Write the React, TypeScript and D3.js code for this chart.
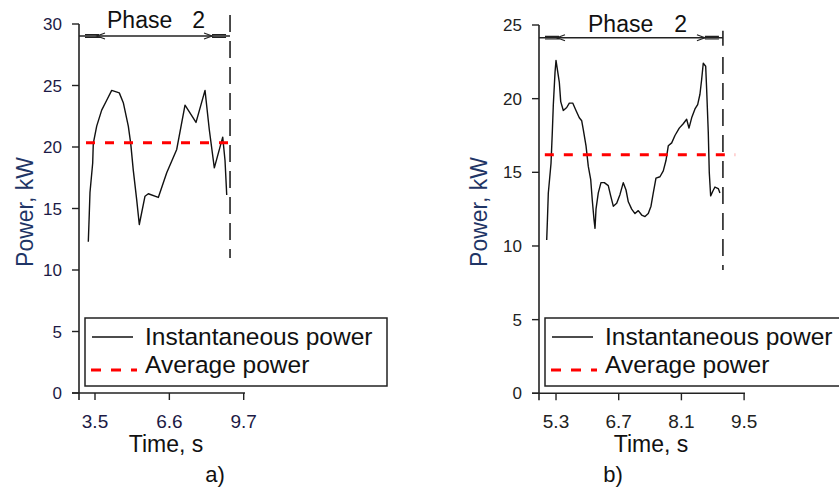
import React from "react";
import * as d3 from "d3";

// ---------- Data ----------
const timeA = [3.221, 3.262, 3.291, 3.404, 3.429, 3.571, 3.779, 3.988, 4.196, 4.513, 4.68, 4.889, 4.989, 5.097, 5.239, 5.347, 5.585, 5.723, 6.14, 6.49, 6.907, 7.253, 7.712, 8.087, 8.266, 8.475, 8.6, 8.825, 8.921, 8.992];
const powerA = [12.3, 14.6, 16.3, 18.7, 20.3, 21.7, 23.0, 23.8, 24.6, 24.4, 23.6, 21.7, 20.3, 18.1, 15.7, 13.7, 16.0, 16.2, 15.9, 17.9, 19.8, 23.4, 22.0, 24.6, 21.4, 18.3, 19.2, 20.8, 18.9, 16.1];

const timeB = [5.092, 5.106, 5.128, 5.188, 5.217, 5.24, 5.278, 5.3, 5.329, 5.374, 5.405, 5.463, 5.539, 5.597, 5.673, 5.746, 5.82, 5.874, 5.909, 5.97, 6.021, 6.075, 6.11, 6.148, 6.171, 6.193, 6.244, 6.304, 6.378, 6.467, 6.521, 6.579, 6.655, 6.729, 6.802, 6.863, 6.914, 6.99, 7.063, 7.137, 7.213, 7.287, 7.36, 7.421, 7.472, 7.532, 7.621, 7.695, 7.755, 7.807, 7.883, 7.956, 8.052, 8.141, 8.217, 8.269, 8.329, 8.403, 8.463, 8.514, 8.552, 8.588, 8.642, 8.664, 8.7, 8.722, 8.753, 8.798, 8.849, 8.923, 8.961];
const powerB = [10.4, 11.6, 13.6, 15.6, 17.7, 19.6, 21.8, 22.6, 22.0, 21.1, 19.8, 19.2, 19.4, 19.7, 19.7, 19.2, 18.7, 18.5, 17.9, 16.8, 15.4, 14.5, 13.1, 11.8, 11.2, 12.5, 13.6, 14.3, 14.3, 14.1, 13.4, 12.7, 12.9, 13.5, 14.3, 13.8, 13.0, 12.5, 12.2, 12.4, 12.1, 12.0, 12.2, 12.7, 13.6, 14.6, 14.7, 15.1, 15.8, 16.8, 17.0, 17.5, 18.0, 18.3, 18.6, 18.0, 18.7, 19.3, 19.6, 20.3, 21.3, 22.4, 22.2, 20.6, 17.7, 15.0, 13.4, 13.7, 14.0, 13.9, 13.6];

const avgA = 20.35;
const avgSpanA = [3.125, 9.42];
const avgB = 16.2;
const avgSpanB = [5.05, 9.3];

const phaseEndA = 9.13;
const phaseEndB = 9.027;

const xTicksA = [3.5, 6.6, 9.7];
const yTicksA = [0, 5, 10, 15, 20, 25, 30];
const xTicksB = [5.3, 6.7, 8.1, 9.5];
const yTicksB = [0, 5, 10, 15, 20, 25];

const legendLabels = ["Instantaneous power", "Average power"];
const phaseLabel = ["Phase", "2"];
const xTitle = "Time, s";
const yTitle = "Power, kW";
const panelLabels = ["a)", "b)"];

const FONT = "'Liberation Sans', Arial, sans-serif";

type PanelProps = {
  times: number[];
  powers: number[];
  avg: number;
  avgSpan: number[];
  phaseEnd: number;
  xTicks: number[];
  yTicks: number[];
  xDomain: [number, number];
  xRange: [number, number];
  yDomain: [number, number];
  yRange: [number, number];
  tickColor: string;
  tickFmt: (v: number) => string;
  phaseTextX: [number, number];
  phaseY: number;
  phaseTextY: number;
  dashTop: number;
  dashBottom: number;
  endCap: boolean;
  yTitleX: number;
  xTitleX: number;
  legendRight: number;
  panelLabel: string;
  panelLabelX: number;
};

function Panel(p: PanelProps) {
  const x = d3.scaleLinear().domain(p.xDomain).range(p.xRange);
  const y = d3.scaleLinear().domain(p.yDomain).range(p.yRange);
  const data = p.times.map((t, i) => [t, p.powers[i]] as [number, number]);
  const line = d3
    .line<[number, number]>()
    .x((d) => x(d[0]))
    .y((d) => y(d[1]));
  const x0 = p.xRange[0];
  const x1 = p.xRange[1];
  const y0 = p.yRange[0];
  const yTop = p.yRange[1];
  const xe = x(p.phaseEnd);
  const py = p.phaseY;
  const legTop = 318;
  const legBottom = 386;
  const legLeft = x0 + 6;
  return (
    <g>
      {/* axes */}
      <line x1={x0} x2={x0} y1={yTop} y2={y0 + 7} stroke="#222" strokeWidth={1.6} />
      <line x1={x0 - 7} x2={x1} y1={y0} y2={y0} stroke="#222" strokeWidth={1.6} />
      {p.yTicks.map((v) => (
        <g key={"y" + v}>
          <line x1={x0 - 7} x2={x0} y1={y(v)} y2={y(v)} stroke="#222" strokeWidth={1.4} />
          <text x={x0 - 17} y={y(v) + 6} textAnchor="end" fontSize={17} fill={p.tickColor} fontFamily={FONT}>
            {v}
          </text>
        </g>
      ))}
      {p.xTicks.map((v) => (
        <g key={"x" + v}>
          <line x1={x(v)} x2={x(v)} y1={y0} y2={y0 + 7} stroke="#222" strokeWidth={1.4} />
          <text x={x(v)} y={428} textAnchor="middle" fontSize={19} fill={p.tickColor} fontFamily={FONT}>
            {p.tickFmt(v)}
          </text>
        </g>
      ))}
      {/* axis titles */}
      <text
        transform={`translate(${p.yTitleX},212) rotate(-90)`}
        textAnchor="middle"
        fontSize={23}
        fill="#1f3566"
        fontFamily={FONT}
      >
        {yTitle}
      </text>
      <text x={p.xTitleX} y={452} textAnchor="middle" fontSize={23} fill="#111" fontFamily={FONT}>
        {xTitle}
      </text>
      <text x={p.panelLabelX} y={482} textAnchor="middle" fontSize={22} fill="#111" fontFamily={FONT}>
        {p.panelLabel}
      </text>
      {/* phase annotation */}
      <line x1={x0} x2={xe} y1={py} y2={py} stroke="#222" strokeWidth={1.6} />
      <path
        d={`M${x0 + 6},${py - 1.3}H${x0 + 20}M${x0 + 6},${py + 1.3}H${x0 + 20}M${x0 + 26},${py - 3}L${x0 + 18},${py}L${x0 + 26},${py + 3}`}
        stroke="#222"
        strokeWidth={1.2}
        fill="none"
      />
      <path
        d={`M${xe - 4},${py - 1.3}H${xe - 18}M${xe - 4},${py + 1.3}H${xe - 18}M${xe - 26},${py - 3}L${xe - 18},${py}L${xe - 26},${py + 3}`}
        stroke="#222"
        strokeWidth={1.2}
        fill="none"
      />
      {p.endCap && <line x1={xe} x2={xe} y1={py - 7} y2={py + 8} stroke="#222" strokeWidth={1.6} />}
      <line
        x1={xe}
        x2={xe}
        y1={p.dashTop}
        y2={p.dashBottom}
        stroke="#222"
        strokeWidth={1.6}
        strokeDasharray="17,9"
      />
      <text x={p.phaseTextX[0]} y={p.phaseTextY} fontSize={23} fill="#111" fontFamily={FONT}>
        {phaseLabel[0]}
      </text>
      <text x={p.phaseTextX[1]} y={p.phaseTextY} fontSize={23} textAnchor="end" fill="#111" fontFamily={FONT}>
        {phaseLabel[1]}
      </text>
      {/* series */}
      <path d={line(data) || ""} fill="none" stroke="#111" strokeWidth={1.4} strokeLinejoin="round" />
      <line
        x1={x(p.avgSpan[0])}
        x2={x(p.avgSpan[1])}
        y1={y(p.avg)}
        y2={y(p.avg)}
        stroke="#ff0000"
        strokeWidth={3}
        strokeDasharray="9,10"
      />
      {/* legend */}
      <rect x={legLeft} y={legTop} width={p.legendRight - legLeft} height={legBottom - legTop} fill="white" stroke="#222" strokeWidth={1.5} />
      <line x1={legLeft + 7} x2={legLeft + 48} y1={337} y2={337} stroke="#111" strokeWidth={1.4} />
      <line x1={legLeft + 6} x2={legLeft + 52} y1={370} y2={370} stroke="#ff0000" strokeWidth={3} strokeDasharray="10,10" />
      <text x={legLeft + 60} y={345} fontSize={24.5} fill="#111" fontFamily={FONT}>
        {legendLabels[0]}
      </text>
      <text x={legLeft + 60} y={373} fontSize={24.5} fill="#111" fontFamily={FONT}>
        {legendLabels[1]}
      </text>
    </g>
  );
}

export default function App() {
  return (
    <svg
      width={839}
      height={500}
      viewBox="0 0 839 500"
      style={{ position: "absolute", left: 0, top: 0, background: "white", overflow: "hidden" }}
    >
      <rect x={0} y={0} width={839} height={500} fill="white" />
      <Panel
        times={timeA}
        powers={powerA}
        avg={avgA}
        avgSpan={avgSpanA}
        phaseEnd={phaseEndA}
        xTicks={xTicksA}
        yTicks={yTicksA}
        xDomain={[2.833, 9.754]}
        xRange={[79, 245]}
        yDomain={[0, 30]}
        yRange={[393, 24]}
        tickColor="#1c1a45"
        tickFmt={(v) => v.toFixed(1)}
        phaseTextX={[107, 205]}
        phaseY={36}
        phaseTextY={28}
        dashTop={15}
        dashBottom={258}
        endCap={false}
        yTitleX={33}
        xTitleX={166}
        legendRight={387}
        panelLabel={panelLabels[0]}
        panelLabelX={215}
      />
      <Panel
        times={timeB}
        powers={powerB}
        avg={avgB}
        avgSpan={avgSpanB}
        phaseEnd={phaseEndB}
        xTicks={xTicksB}
        yTicks={yTicksB}
        xDomain={[4.92, 9.52]}
        xRange={[539, 745]}
        yDomain={[0, 25]}
        yRange={[393.3, 25]}
        tickColor="#222"
        tickFmt={(v) => v.toFixed(1)}
        phaseTextX={[588, 687]}
        phaseY={37.7}
        phaseTextY={32}
        dashTop={57}
        dashBottom={270}
        endCap={true}
        yTitleX={487}
        xTitleX={651}
        legendRight={870}
        panelLabel={panelLabels[1]}
        panelLabelX={613}
      />
    </svg>
  );
}
